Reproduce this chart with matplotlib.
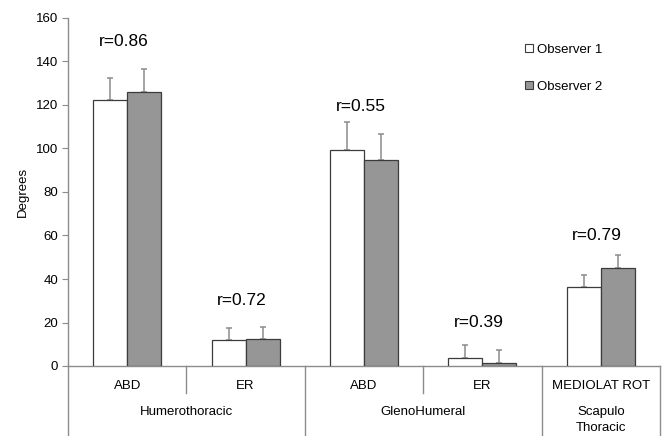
import numpy as np
import matplotlib
matplotlib.use("Agg")
import matplotlib.pyplot as plt
from matplotlib.patches import Patch
import matplotlib.transforms as mtransforms

plt.rcParams['font.family'] = ['Liberation Sans', 'DejaVu Sans']

# data
motions = ['ABD', 'ER', 'ABD', 'ER', 'MEDIOLAT ROT']
joints = ['Humerothoracic', 'GlenoHumeral', 'Scapulo\nThoracic']
joint_span = [(0, 1), (2, 3), (4, 4)]
obs1 = [122.3, 12.0, 99.5, 3.5, 36.2]
obs1_sd = [10.3, 5.6, 12.8, 6.3, 5.8]
obs2 = [126.0, 12.4, 94.7, 1.2, 45.0]
obs2_sd = [10.5, 5.5, 11.8, 6.2, 6.0]
r_text = ['r=0.86', 'r=0.72', 'r=0.55', 'r=0.39', 'r=0.79']
r_height = [149, 30, 119.5, 20, 60]

grey = '#8c8c8c'
edge = '#3c3c3c'
fill2 = '#969696'

fig = plt.figure(figsize=(6.68, 4.36), dpi=100)
ax = fig.add_axes([68/668, 1-366/436, 592/668, 348/436])

x = np.arange(len(motions))
w = 0.288
b1 = ax.bar(x - w/2, obs1, w, color='white', edgecolor=edge, linewidth=0.9, zorder=3)
b2 = ax.bar(x + w/2, obs2, w, color=fill2, edgecolor=edge, linewidth=0.9, zorder=3)
ax.errorbar(x - w/2, obs1, yerr=[np.zeros(5), obs1_sd], fmt='none', ecolor=grey,
            elinewidth=1.1, capsize=2.5, capthick=1.1, zorder=2)
ax.errorbar(x + w/2, obs2, yerr=[np.zeros(5), obs2_sd], fmt='none', ecolor=grey,
            elinewidth=1.1, capsize=2.5, capthick=1.1, zorder=2)

for i in range(len(motions)):
    ax.text(x[i] - 0.03, r_height[i], r_text[i], ha='center', va='center', fontsize=12.5)

ax.set_xlim(-0.5, len(motions) - 0.5)
ax.set_ylim(0, 160)
ax.set_yticks(np.arange(0, 161, 20))
ax.set_xticks([])
ax.tick_params(axis='y', direction='out', length=4, color=grey, labelsize=9.5, pad=3)
for s in ['top', 'right']:
    ax.spines[s].set_visible(False)
for s in ['left', 'bottom']:
    ax.spines[s].set_color(grey)
    ax.spines[s].set_linewidth(1)
ax.set_ylabel('Degrees', fontsize=9.5, labelpad=5)

# category axis below the plot
trans = mtransforms.blended_transform_factory(ax.transData, ax.transAxes)
bottom = -70/348
ax.plot([-0.5, -0.5], [0, bottom], transform=trans, color=grey, lw=1, clip_on=False)
for a, b in joint_span:
    ax.plot([b + 0.5, b + 0.5], [0, bottom], transform=trans, color=grey, lw=1, clip_on=False)
    for k in range(a, b):
        ax.plot([k + 0.5, k + 0.5], [0, -27/348], transform=trans, color=grey, lw=1, clip_on=False)
for i, m in enumerate(motions):
    ax.text(x[i], -20/348, m, transform=trans, ha='center', va='center', fontsize=9.5)
for (a, b), j in zip(joint_span, joints):
    ax.text((a + b) / 2, -40/348, j, transform=trans, ha='center', va='top', fontsize=9.5,
            linespacing=1.45)

handles = [Patch(facecolor='white', edgecolor=edge, linewidth=0.8),
           Patch(facecolor=fill2, edgecolor=edge, linewidth=0.8)]
ax.legend(handles, ['Observer 1', 'Observer 2'], loc='upper left',
          bbox_to_anchor=(513/668, 1-32/436), bbox_transform=fig.transFigure,
          frameon=False, fontsize=9.5, handlelength=0.6, handleheight=0.6,
          handletextpad=0.35, labelspacing=1.9)

fig.savefig('out.png', dpi=100)
